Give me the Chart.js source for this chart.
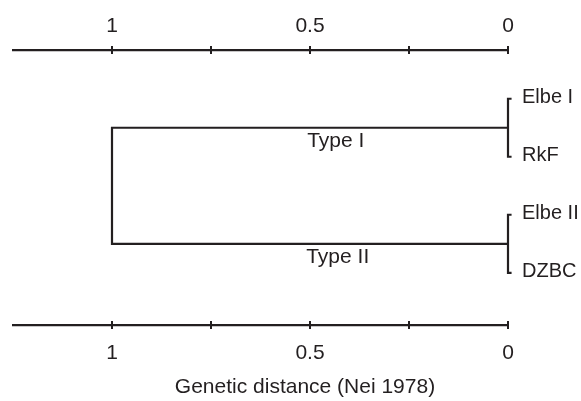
<!DOCTYPE html>
<html>
<head>
<meta charset="utf-8">
<script src="https://cdn.jsdelivr.net/npm/chart.js@4.4.1/dist/chart.umd.min.js"></script>
<style>
    html, body { margin: 0; padding: 0; background: #fff; }
    #wrap { width: 581px; height: 401px; }
</style>
</head>
<body>
<div id="wrap"><canvas id="tree"></canvas></div>
<script>
// leaves, top to bottom
const leafNames = ['Elbe I', 'RkF', 'Elbe II', 'DZBC'];
const leafRows = [1, 2, 3, 4];
const leafStub = -0.009; // tiny terminal branch drawn past 0

// clusters (pairs of leaves) and where they join
const clusterNames = ['Type I', 'Type II'];
const clusterLeaves = [[0, 1], [2, 3]];
const clusterJoin = [0, 0];
const clusterLabelDist = [0.435, 0.43];
const rootJoin = 1.0;

// axis ticks
const tickValues = [0, 0.25, 0.5, 0.75, 1];
const tickLabels = ['0', '', '0.5', '', '1'];
const axisTitle = 'Genetic distance (Nei 1978)';

const ink = '#231f20';
const fontFamily = '"Liberation Sans", Arial, Helvetica, sans-serif';
const fontSize = 21;

function row(i) { return leafRows[i]; }
function midRow(c) { return (row(clusterLeaves[c][0]) + row(clusterLeaves[c][1])) / 2; }

const datasets = [];
clusterLeaves.forEach((pair, c) => {
    const [a, b] = pair;
    datasets.push({
        data: [
            { x: leafStub, y: row(a) }, { x: clusterJoin[c], y: row(a) },
            { x: clusterJoin[c], y: row(b) }, { x: leafStub, y: row(b) },
        ],
    });
});
datasets.push({
    data: [
        { x: clusterJoin[0], y: midRow(0) }, { x: rootJoin, y: midRow(0) },
        { x: rootJoin, y: midRow(1) }, { x: clusterJoin[1], y: midRow(1) },
    ],
});
datasets.forEach((d) => Object.assign(d, {
    showLine: true,
    borderColor: ink,
    borderWidth: 2.2,
    pointRadius: 0,
    tension: 0,
    clip: false,
    borderJoinStyle: 'miter',
}));

const crossTicks = {
    id: 'crossTicks',
    afterDraw(chart) {
        const ctx = chart.ctx;
        ctx.save();
        ctx.strokeStyle = ink;
        ctx.lineWidth = 2;
        ['x', 'x2'].forEach((id) => {
            const s = chart.scales[id];
            const y = id === 'x2' ? s.bottom : s.top;
            tickValues.forEach((v) => {
                const px = Math.round(s.getPixelForValue(v));
                ctx.beginPath();
                ctx.moveTo(px, y - 4);
                ctx.lineTo(px, y + 4);
                ctx.stroke();
            });
        });
        ctx.restore();
    },
};

const treeText = {
    id: 'treeText',
    afterDraw(chart) {
        const { ctx, scales: { x, y } } = chart;
        ctx.save();
        ctx.fillStyle = ink;
        ctx.textBaseline = 'middle';

        ctx.font = '20px ' + fontFamily;
        ctx.textAlign = 'left';
        leafNames.forEach((name, i) => {
            ctx.fillText(name, x.getPixelForValue(0) + 14, y.getPixelForValue(row(i)) - 1);
        });

        ctx.font = fontSize + 'px ' + fontFamily;
        ctx.textAlign = 'center';
        clusterNames.forEach((name, c) => {
            ctx.fillText(name, x.getPixelForValue(clusterLabelDist[c]), y.getPixelForValue(midRow(c)) + 13);
        });

        ctx.fillText(axisTitle, 305, 387);
        ctx.restore();
    },
};

function xAxis(position, pad) {
    return {
        type: 'linear',
        position,
        reverse: true,
        min: 0,
        max: 1.25,
        afterBuildTicks: (scale) => { scale.ticks = tickValues.map((v) => ({ value: v })); },
        afterFit: (scale) => { scale.height = position === 'top' ? 50 : 76; },
        grid: { display: false, drawTicks: false },
        border: { display: true, color: ink, width: 2.2 },
        ticks: {
            padding: pad,
            color: ink,
            font: { family: fontFamily, size: fontSize },
            maxRotation: 0,
            autoSkip: false,
            callback: (v) => tickLabels[tickValues.indexOf(v)] ?? '',
        },
    };
}

new Chart(document.getElementById('tree'), {
    type: 'scatter',
    data: { datasets },
    options: {
        responsive: true,
        maintainAspectRatio: false,
        animation: false,
        layout: { padding: { left: 13, right: 73, top: 0, bottom: 0 } },
        plugins: { legend: { display: false }, tooltip: { enabled: false } },
        scales: {
            x: xAxis('bottom', 16),
            x2: xAxis('top', 11),
            y: { display: false, reverse: true, min: 0.16, max: 4.9 },
        },
    },
    plugins: [crossTicks, treeText],
});
</script>
</body>
</html>
